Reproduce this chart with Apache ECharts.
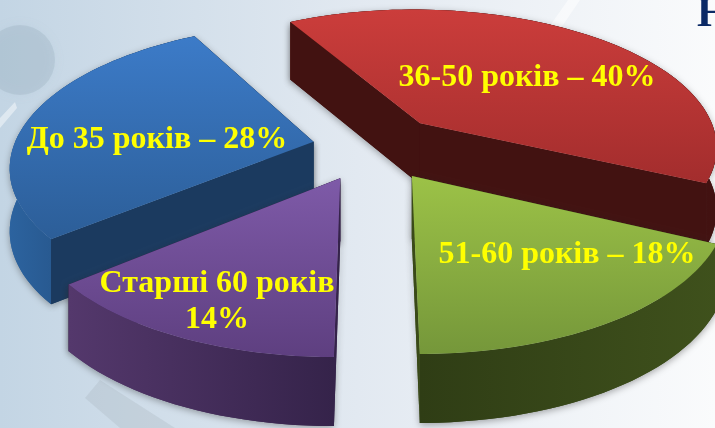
<!DOCTYPE html>
<html>
<head>
<meta charset="utf-8">
<style>html,body{margin:0;padding:0;overflow:hidden;background:#fff}#main{width:715px;height:428px}</style>
<script src="https://cdn.jsdelivr.net/npm/echarts@6/dist/echarts.min.js"></script>
</head>
<body>
<div id="main"></div>
<script>
var myChart = echarts.init(document.getElementById("main"), null, {renderer: 'canvas'});

// clockwise from the back-left edge
var categories = ['36-50 років', '51-60 років', 'Старші 60 років', 'До 35 років'];
var shares = [40, 18, 14, 28];
var lineBreak = [false, false, true, false];

// blue and red are behind, purple and green overlap them
var drawOrder = [3, 0, 2, 1];

var colors = [
  {top: ['#cb3d3b', '#a32d2d'], wall: ['#521815', '#421211'], cut: '#421211'},
  {top: ['#9cc247', '#75973a'], wall: ['#2f3d15', '#3f511c'], cut: '#3a4a18'},
  {top: ['#7e5aa8', '#5e3f80'], wall: ['#54386c', '#35234a'], cut: '#35234a'},
  {top: ['#3c7bc8', '#2c5e98'], wall: ['#2c639f', '#1b3a60'], cut: '#1b3a5f'}
];
var labelPos = [[527, 78], [567, 255], [217, 302], [157, 140]];
var explode = [0.24, 0.24, 0.24, 0.2];

// projection of the pie plane
var startAngle = -118.8, cx = 372, cy = 147, radiusX = 300, radiusY = 139, persp = 0.16;

function project(u, v) {
  var w = 1 - persp * v;
  var d = 33 + 29 / w;
  return {x: cx + radiusX * u / w, y: cy + radiusY * v / w, d: d};
}

function lower(p) { return [p.x, p.y + p.d]; }
function upper(p) { return [p.x, p.y]; }

function wallGradient(c) {
  return new echarts.graphic.LinearGradient(0, 0, 1, 0, [{offset: 0, color: c[0]}, {offset: 1, color: c[1]}]);
}

function wall(points, fill, withShadow) {
  var style = {fill: fill};
  if (withShadow) {
    style.shadowBlur = 7;
    style.shadowColor = 'rgba(40,40,40,0.4)';
    style.shadowOffsetY = 2;
  }
  return {type: 'polygon', shape: {points: points}, style: style};
}

function renderSlice(params, api) {
  var idx = api.value(0);
  var total = shares.reduce(function (a, b) { return a + b; }, 0);
  var before = 0;
  for (var i = 0; i < idx; i++) before += shares[i];
  var a0 = startAngle + before / total * 360;
  var a1 = a0 + shares[idx] / total * 360;
  var mid = (a0 + a1) / 2 * Math.PI / 180;
  var ou = explode[idx] * Math.cos(mid), ov = explode[idx] * Math.sin(mid);

  var apex = project(ou, ov);
  var rim = [];
  for (var a = a0; a < a1; a += 2) {
    rim.push(project(ou + Math.cos(a * Math.PI / 180), ov + Math.sin(a * Math.PI / 180)));
  }
  rim.push(project(ou + Math.cos(a1 * Math.PI / 180), ov + Math.sin(a1 * Math.PI / 180)));

  var c = colors[idx];
  var first = rim[0], last = rim[rim.length - 1];
  var rimPts = rim.map(upper).concat(rim.slice().reverse().map(lower));
  var cutAPts = [upper(apex), upper(first), lower(first), lower(apex)];
  var cutBPts = [upper(apex), upper(last), lower(last), lower(apex)];

  // shadows go in a layer of their own so they leave no seams on the walls
  var children = [
    wall(rimPts, wallGradient(c.wall), true),
    wall(cutAPts, c.cut, true),
    wall(cutBPts, c.cut, true)
  ];
  // back slices show their cut faces, front slices show the rim
  if (Math.sin(mid) < 0) {
    children.push(wall(rimPts, wallGradient(c.wall)), wall(cutAPts, c.cut), wall(cutBPts, c.cut));
  } else {
    children.push(wall(cutAPts, c.cut), wall(cutBPts, c.cut), wall(rimPts, wallGradient(c.wall)));
  }
  children.push({
    type: 'polygon',
    shape: {points: [upper(apex)].concat(rim.map(upper))},
    style: {fill: new echarts.graphic.LinearGradient(0, 0, 0, 1, [{offset: 0, color: c.top[0]}, {offset: 1, color: c.top[1]}])}
  });
  children.push({
    type: 'text',
    style: {
      text: categories[idx] + (lineBreak[idx] ? '\n' : ' – ') + shares[idx] + '%',
      x: labelPos[idx][0], y: labelPos[idx][1],
      align: 'center', verticalAlign: 'middle',
      fill: '#ffff00',
      font: 'bold 32px "Liberation Serif"',
      lineHeight: 36
    }
  });
  return {type: 'group', children: children};
}

var option = {
  animation: false,
  graphic: [
    {type: 'rect', z: -10, shape: {x: 0, y: 0, width: 715, height: 428},
      style: {fill: new echarts.graphic.LinearGradient(0, 0, 1, 0, [
        {offset: 0, color: '#c3d5e4'}, {offset: 0.5, color: '#e2e9f1'}, {offset: 1, color: '#fafbfc'}])}},
    {type: 'circle', z: -9, shape: {cx: 20, cy: 60, r: 35},
      style: {fill: 'rgba(130,155,175,0.22)', shadowBlur: 12, shadowColor: 'rgba(130,155,175,0.4)'}},
    {type: 'polygon', z: -9, shape: {points: [[0, 118], [15, 102], [17, 108], [0, 128]]}, style: {fill: 'rgba(255,255,255,0.45)'}},
    {type: 'polygon', z: -9, shape: {points: [[540, 40], [568, 0], [580, 0], [550, 44]]}, style: {fill: 'rgba(255,255,255,0.5)'}},
    {type: 'polygon', z: -9, shape: {points: [[85, 398], [100, 380], [175, 428], [120, 428]]}, style: {fill: 'rgba(160,170,180,0.25)'}},
    {type: 'text', z: -8, style: {text: 'Н', x: 697, y: 36, verticalAlign: 'bottom', fill: '#0b2a66', font: 'bold 42px "Liberation Serif"'}}
  ],
  series: [{
    type: 'custom',
    coordinateSystem: 'none',
    renderItem: renderSlice,
    data: drawOrder.map(function (i) { return [i]; })
  }]
};
myChart.setOption(option);
</script>
</body>
</html>
